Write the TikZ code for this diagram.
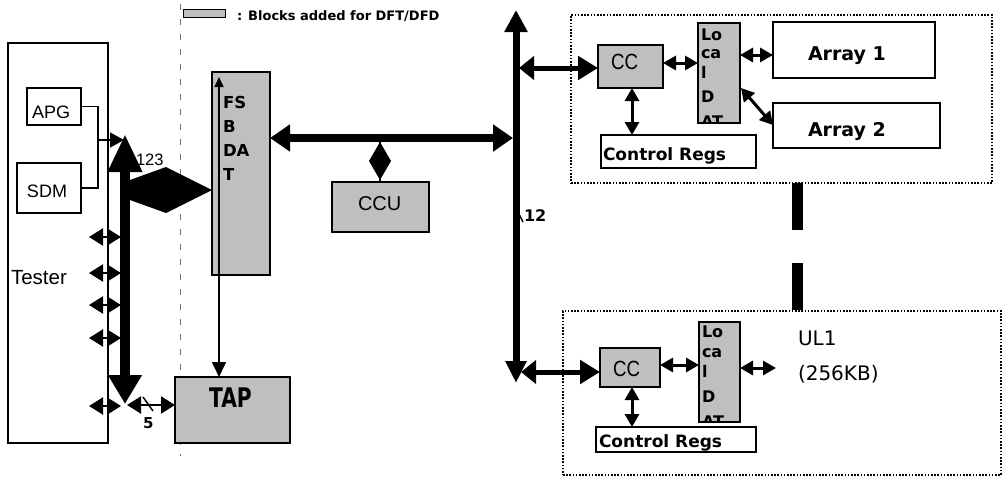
\documentclass[tikz,border=0pt]{standalone}
\usepackage{fontspec}
\setmainfont{Liberation Sans}
\newfontfamily\dvs{DejaVu Sans}
\usetikzlibrary{arrows.meta,calc}
\newcommand{\myfs}[1]{\fontsize{#1}{#1}\selectfont}
\begin{document}
\begin{tikzpicture}[x=1pt,y=-1pt,
  bx/.style={draw, line width=1.8pt, inner sep=0pt, outer sep=0pt},
  dft/.style={bx, fill=black!25},
  dotbox/.style={draw, line width=1.8pt, dash pattern=on 1.6pt off 1.6pt, inner sep=0pt, outer sep=0pt},
  txt/.style={inner sep=0pt, outer sep=0pt, anchor=base west},
  bold/.style={font=\dvs\bfseries\myfs{#1}},
  plain/.style={font=\myfs{#1}},
  dblS/.style={line width=2pt, {Triangle[length=14pt,width=17pt]}-{Triangle[length=14pt,width=17pt]}},
  dblM/.style={line width=3pt, {Triangle[length=13pt,width=14pt]}-{Triangle[length=13pt,width=14pt]}},
  dblL/.style={line width=5pt, {Triangle[length=15pt,width=23pt]}-{Triangle[length=20pt,width=23pt]}},
  thin/.style={line width=1.5pt}
]
\useasboundingbox (0,0) rectangle (1004,477);

% legend
\node[dft, line width=1pt, minimum width=42pt, minimum height=8pt] (leg) at (204,13) {};
\node[txt, bold=13] (legt) at (237,20) {: Blocks added for DFT/DFD};

% dash-dot separator
\coordinate (sep1) at (180,4);
\coordinate (sep2) at (180,456);
\draw[black!55, line width=1pt, dash pattern=on 6pt off 9pt] (sep1) -- (sep2);

% tester
\node[bx, minimum width=100pt, minimum height=400pt] (tester) at (58,243) {};
\node[txt, plain=20.5] (testert) at (11,284) {Tester};
\node[bx, minimum width=54pt, minimum height=37pt] (apg) at (54,106.5) {};
\node[txt, plain=18] (apgt) at (32,118) {APG};
\node[bx, minimum width=64pt, minimum height=50pt] (sdm) at (49,188) {};
\node[txt, plain=18] (sdmt) at (27,197) {SDM};
\coordinate (mj) at (98,140);
\coordinate (mjt) at (124,140);
\draw[thin] (apg.east) -| (mj);
\draw[thin] (sdm.east) -| (mj);
\draw[thin, -{Triangle[length=14pt,width=15pt]}] (mj) -- (mjt);

% thick left bus
\coordinate (bt) at (125,134);
\coordinate (bb) at (125,404);
\draw[line width=10pt, {Triangle[length=38pt,width=32pt]}-{Triangle[length=29pt,width=32pt]}] (bt) -- (bb);
\node[txt, plain=16.5] (l123) at (136,165) {123};

% small edge arrows
\foreach \i/\yy in {1/237,2/273,3/305,4/338,5/406} {
  \coordinate (sl\i) at (89,\yy);
  \coordinate (sr\i) at (121,\yy);
  \draw[dblS] (sl\i) -- (sr\i);
}

% FSBDAT
\node[dft, minimum width=58pt, minimum height=203pt] (fsb) at (241,173.5) {};
\node[txt, bold=16.5] (fs1) at (223,108) {FS};
\node[txt, bold=16.5] (fs2) at (223,132) {B};
\node[txt, bold=16.5] (fs3) at (223,156) {DA};
\node[txt, bold=16.5] (fs4) at (223,180) {T};

% big wedge from bus to FSBDAT
\fill (130,180) -- (166,167) -- (fsb.west |- {0,190}) -- (166,213) -- (130,200) -- cycle;

% TAP
\node[dft, minimum width=115pt, minimum height=66pt] (tap) at (232.5,410) {};
\node[txt, bold=27] (tapt) at (209,407) {\scalebox{0.75}[1]{TAP}};
\coordinate (ft) at (219,77);
\draw[thin, {Triangle[length=10pt,width=9pt]}-{Triangle[length=15pt,width=14pt]}] (ft) -- (ft |- tap.north);

% bus to TAP
\coordinate (b5) at (127,405);
\draw[dblS] (b5) -- (b5 -| tap.west);
\coordinate (tk1) at (143,397);
\coordinate (tk2) at (153,411);
\draw[thin] (tk1) -- (tk2);
\node[txt, bold=15] (l5) at (143,428) {5};

% horizontal bus
\coordinate (hbL) at (270,138);
\coordinate (hbR) at (513,138);
\draw[line width=8pt, {Triangle[length=20pt,width=26pt]}-{Triangle[length=20pt,width=26pt]}] (hbL) -- (hbR);

% CCU
\node[dft, minimum width=97pt, minimum height=50pt] (ccu) at (380.5,207) {};
\node[txt, plain=20] (ccut) at (358,210) {CCU};
\coordinate (dm) at (380,138);
\draw[thin] (dm) -- (dm |- ccu.north);
\fill (380,142) -- (391,161) -- (380,180) -- (369,161) -- cycle;

% right vertical bus
\coordinate (rbt) at (516,10);
\coordinate (rbb) at (516,383);
\draw[line width=7pt, {Triangle[length=22pt,width=22pt]}-{Triangle[length=22pt,width=20pt]}] (rbt) -- (rbb);
\coordinate (tk3) at (515,206);
\coordinate (tk4) at (523,222);
\draw[thin] (tk3) -- (tk4);
\node[txt, bold=16] (l12) at (524,221) {12};

% top module
\node[dotbox, minimum width=421pt, minimum height=168pt] (m1) at (781.5,99) {};
\node[dft, minimum width=65pt, minimum height=43pt] (cc1) at (630.5,66.5) {};
\node[txt, plain=22] (cc1t) at (611,69) {\scalebox{0.85}[1]{CC}};
\node[dft, minimum width=42pt, minimum height=100pt] (loc1) at (719,73) {};
\begin{scope}
\clip (loc1.north west) rectangle (loc1.south east);
\node[txt, bold=16] (la1) at (701,40) {Lo};
\node[txt, bold=16] (la2) at (701,58) {ca};
\node[txt, bold=16] (la3) at (701,78) {l};
\node[txt, bold=16] (la4) at (701,102) {D};
\node[txt, bold=16] (la5) at (701,127) {AT};
\end{scope}
\node[bx, minimum width=162pt, minimum height=56pt] (ar1) at (854,50) {};
\node[txt, bold=19] (ar1t) at (808,60) {Array 1};
\node[bx, minimum width=167pt, minimum height=45pt] (ar2) at (856.5,125.5) {};
\node[txt, bold=19] (ar2t) at (808,136) {Array 2};
\node[bx, minimum width=155pt, minimum height=33pt] (cr1) at (678.5,151.5) {};
\node[txt, bold=17] (cr1t) at (603,160) {Control Regs};

\coordinate (bc1) at (519,68);
\draw[dblL] (bc1) -- (bc1 -| cc1.west);
\coordinate (c1l) at (663,63);
\draw[dblM] (c1l) -- (c1l -| loc1.west);
\coordinate (l1a) at (740,55);
\draw[dblM] (l1a) -- (l1a -| ar1.west);
\coordinate (l1b) at (741,88);
\coordinate (a2a) at (773,125);
\draw[dblM] (l1b) -- (a2a);
\coordinate (c1c) at (632,88);
\draw[dblM] (c1c) -- (c1c |- cr1.north);

% vertical dashes between modules
\coordinate (vd1) at (797.5,183);
\coordinate (vd2) at (797.5,311);
\draw[line width=11pt, dash pattern=on 47pt off 33pt] (vd1) -- (vd2);

% bottom module
\node[dotbox, minimum width=438pt, minimum height=164pt] (m2) at (782,393) {};
\node[dft, minimum width=60pt, minimum height=39pt] (cc2) at (630,367.5) {};
\node[txt, plain=22] (cc2t) at (613,376) {\scalebox{0.85}[1]{CC}};
\node[dft, minimum width=41pt, minimum height=100pt] (loc2) at (719.5,372) {};
\begin{scope}
\clip (loc2.north west) rectangle (loc2.south east);
\node[txt, bold=16] (lb1) at (702,337) {Lo};
\node[txt, bold=16] (lb2) at (702,357) {ca};
\node[txt, bold=16] (lb3) at (702,377) {l};
\node[txt, bold=16] (lb4) at (702,402) {D};
\node[txt, bold=16] (lb5) at (702,427) {AT};
\end{scope}
\node[bx, minimum width=160pt, minimum height=25pt] (cr2) at (676,439.5) {};
\node[txt, bold=17] (cr2t) at (599,447) {Control Regs};
\node[txt, font=\dvs\myfs{20}] (ul1) at (798,345) {UL1};
\node[txt, font=\dvs\myfs{20}] (ul2) at (798,380) {(256KB)};

\coordinate (bc2) at (521,372);
\draw[dblL] (bc2) -- (bc2 -| cc2.west);
\coordinate (c2l) at (660,365);
\draw[dblM] (c2l) -- (c2l -| loc2.west);
\coordinate (l2r) at (740,368);
\coordinate (l2e) at (776,368);
\draw[dblM] (l2r) -- (l2e);
\coordinate (c2c) at (632,387);
\draw[dblM] (c2c) -- (c2c |- cr2.north);
\end{tikzpicture}
\end{document}
